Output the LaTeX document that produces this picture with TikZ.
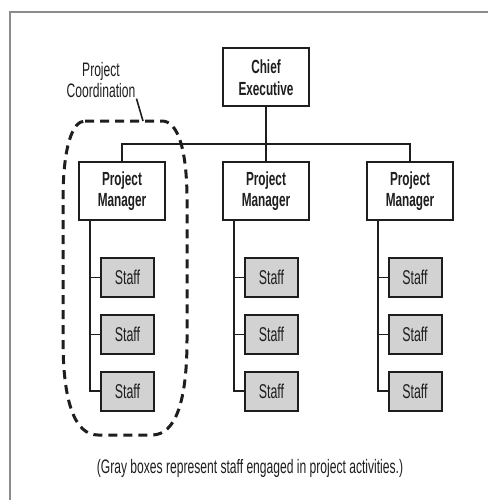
\documentclass[tikz,border=0pt]{standalone}
\usepackage{fontspec}
\setmainfont[FakeStretch=0.62]{Liberation Sans}
\definecolor{staffgray}{HTML}{D2D2D2}
\definecolor{framegray}{HTML}{8C8C8C}
\definecolor{ink}{HTML}{1E1E1E}
\begin{document}
\begin{tikzpicture}[x=1pt,y=-1pt,
  headbox/.style={draw=ink,line width=2pt,fill=white,minimum width=86pt,minimum height=58pt,
    inner sep=0pt,align=center,font=\fontsize{19}{21.5}\selectfont\bfseries,text=ink},
  staffbox/.style={draw=ink,line width=2pt,fill=staffgray,minimum width=53pt,minimum height=39pt,
    inner sep=0pt,font=\fontsize{20}{20}\selectfont,text=ink},
  link/.style={draw=ink,line width=1.8pt},
  note/.style={font=\fontsize{19.5}{20.5}\selectfont,text=ink,align=center,inner sep=1pt}]
\useasboundingbox (0,0) rectangle (488,500);
% page frame (top and left edges only)
\draw[framegray,line width=1.5pt] (488,12) -- (10,12) -- (10,500);

% executive and managers
\node[headbox] (chief) at (266,77.5) {Chief\\Executive};
\node[headbox] (pm1) at (122,191) {Project\\Manager};
\node[headbox] (pm2) at (266,191) {Project\\Manager};
\node[headbox] (pm3) at (410,191) {Project\\Manager};

% staff columns
\foreach \c/\x in {1/127.5,2/271.5,3/415}{
  \node[staffbox] (s\c1) at (\x,277.5) {Staff};
  \node[staffbox] (s\c2) at (\x,334.5) {Staff};
  \node[staffbox] (s\c3) at (\x,391) {Staff};
}

% reporting lines
\coordinate (bus) at (266,144);
\draw[link] (chief.south) -- (pm2.north);
\draw[link] (pm1.north) |- (bus) -| (pm3.north);
\foreach \c in {1,2,3}{
  \coordinate (t\c) at ([xshift=12pt]pm\c.south west);
  \draw[link] (t\c) |- (s\c3.west);
  \draw[link] (s\c1.west) -- (s\c1.west -| t\c);
  \draw[link] (s\c2.west) -- (s\c2.west -| t\c);
}

% project coordination loop
\draw[ink,line width=3pt,dash pattern=on 9pt off 6pt]
  (85,121) -- (162,121)
  .. controls (178,121) and (187,150) .. (187,200)
  -- (187,340)
  .. controls (187,400) and (176,435) .. (152,435)
  -- (98,435)
  .. controls (74,435) and (63,400) .. (63,340)
  -- (63,200)
  .. controls (63,148) and (72,121) .. (85,121);
\node[note] (coord) at (101,80) {Project\\Coordination};
\coordinate (tip) at (143,121);
\draw[ink,line width=1.6pt] (coord.south east) -- (tip);

% caption
\node[note] (caption) at (250,468) {(Gray boxes represent staff engaged in project activities.)};
\end{tikzpicture}
\end{document}
